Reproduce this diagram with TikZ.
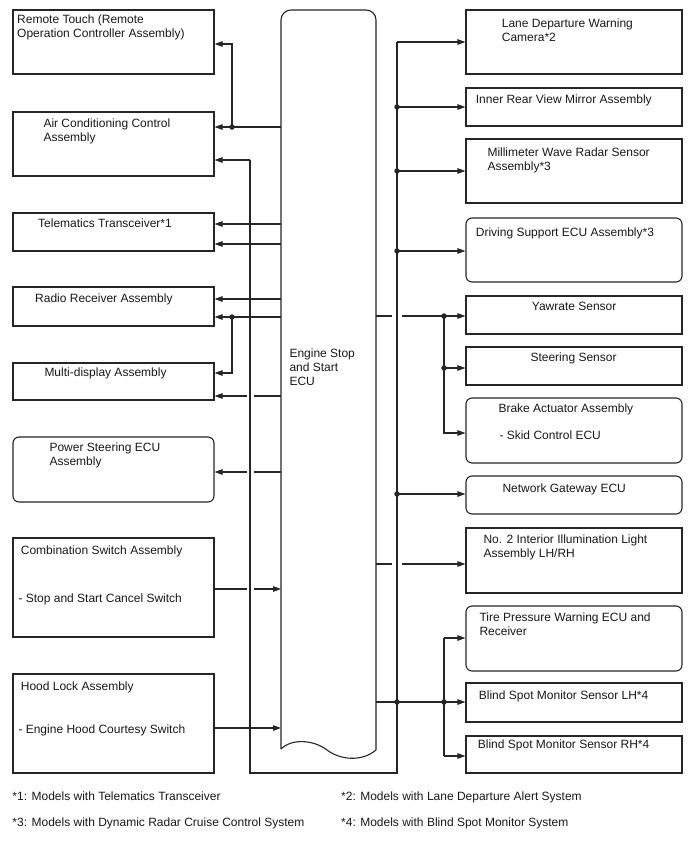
\documentclass[tikz,border=0pt]{standalone}
\usepackage{fontspec}
\setmainfont{Liberation Sans}
\usetikzlibrary{arrows.meta}
\begin{document}
\begin{tikzpicture}[x=1pt,y=-1pt,
  every node/.style={font=\fontsize{12}{14}\selectfont},
  ln/.style={line width=1.1pt, draw=black!85},
  box/.style={ln, rectangle, inner sep=0pt},
  lbox/.style={box, minimum width=201pt},
  rbox/.style={box, minimum width=216pt},
  rnd/.style={rounded corners=6pt},
  lbl/.style={anchor=base west, inner sep=0pt, text=black!90},
  arr/.style={ln, -{Triangle[length=8pt,width=5.5pt]}},
  dotn/.style={circle, fill=black!85, inner sep=0pt, minimum size=5.5pt}]
\fill[white] (0,0) rectangle (688,852);
\useasboundingbox (0,0) rectangle (688,852);

% ---- left boxes
\node[lbox, minimum height=64pt] (rt)  at (113.5,42) {};
\node[lbox, minimum height=64pt] (ac)  at (113.5,144) {};
\node[lbox, minimum height=38pt] (tel) at (113.5,232) {};
\node[lbox, minimum height=39pt] (rad) at (113.5,306.5) {};
\node[lbox, minimum height=37pt] (md)  at (113.5,381.5) {};
\node[lbox, rnd, minimum height=65pt] (ps) at (113.5,469.5) {};
\node[lbox, minimum height=99pt] (cs)  at (113.5,587.5) {};
\node[lbox, minimum height=99pt] (hl)  at (113.5,723.5) {};

% ---- right boxes
\node[rbox, minimum height=64pt] (ldw) at (574,42) {};
\node[rbox, minimum height=38pt] (irv) at (574,107) {};
\node[rbox, minimum height=64pt] (mmw) at (574,171) {};
\node[rbox, rnd, minimum height=64pt] (dsu) at (574,250) {};
\node[rbox, minimum height=38pt] (yaw) at (574,315) {};
\node[rbox, minimum height=38pt] (ste) at (574,366) {};
\node[rbox, rnd, minimum height=65pt] (bra) at (574,430.5) {};
\node[rbox, rnd, minimum height=38pt] (ngw) at (574,495) {};
\node[rbox, minimum height=65pt] (il)  at (574,560.5) {};
\node[rbox, rnd, minimum height=65pt] (tpw) at (574,638.5) {};
\node[rbox, minimum height=39pt] (bsl) at (574,702.5) {};
\node[rbox, minimum height=37pt] (bsr) at (574,754.5) {};

% ---- ECU
\draw[ln, rounded corners=10pt] (281,749) -- (281,10) -- (376,10) -- (376,750);
\draw[ln] (376,750) .. controls (362,762) and (340,760) .. (327,750)
                    .. controls (314,740) and (292,738) .. (281,749);
\node[lbl] (ecu1) at (289.3,357.6) {Engine Stop};
\node[lbl] (ecu2) at (289.3,371.6) {and Start};
\node[lbl] (ecu3) at (289.3,385.6) {ECU};

% ---- labels left
\node[lbl] (t1a) at (17,23.6) {Remote Touch (Remote};
\node[lbl] (t1b) at (17,37.6) {Operation Controller Assembly)};
\node[lbl] (t2a) at (43.3,127.6) {Air Conditioning Control};
\node[lbl] (t2b) at (43.3,141.6) {Assembly};
\node[lbl] (t3) at (38,227.6) {Telematics Transceiver*1};
\node[lbl] (t4) at (35,302.6) {Radio Receiver Assembly};
\node[lbl] (t5) at (44.3,376.6) {Multi-display Assembly};
\node[lbl] (t6a) at (49.3,451) {Power Steering ECU};
\node[lbl] (t6b) at (49.3,465) {Assembly};
\node[lbl] (t7a) at (20.7,554.3) {Combination Switch Assembly};
\node[lbl] (t7b) at (18.3,602) {- Stop and Start Cancel Switch};
\node[lbl] (t8a) at (20.7,690) {Hood Lock Assembly};
\node[lbl] (t8b) at (18.3,733.6) {- Engine Hood Courtesy Switch};

% ---- labels right
\node[lbl] (u1a) at (501.7,27) {Lane Departure Warning};
\node[lbl] (u1b) at (501.7,41) {Camera*2};
\node[lbl] (u2) at (475.7,103.6) {Inner Rear View Mirror Assembly};
\node[lbl] (u3a) at (487.3,156) {Millimeter Wave Radar Sensor};
\node[lbl] (u3b) at (487.3,170) {Assembly*3};
\node[lbl] (u4) at (475.7,236) {Driving Support ECU Assembly*3};
\node[lbl] (u5) at (531.7,310.3) {Yawrate Sensor};
\node[lbl] (u6) at (530.3,361.6) {Steering Sensor};
\node[lbl] (u7a) at (498.3,412.6) {Brake Actuator Assembly};
\node[lbl] (u7b) at (499.3,439.3) {- Skid Control ECU};
\node[lbl] (u8) at (502.3,492) {Network Gateway ECU};
\node[lbl] (u9a) at (483.3,543.6) {No. 2 Interior Illumination Light};
\node[lbl] (u9b) at (483.3,557.6) {Assembly LH/RH};
\node[lbl] (u10a) at (479.3,621) {Tire Pressure Warning ECU and};
\node[lbl] (u10b) at (479.3,635) {Receiver};
\node[lbl] (u11) at (478.7,699.3) {Blind Spot Monitor Sensor LH*4};
\node[lbl] (u12) at (477.7,748.3) {Blind Spot Monitor Sensor RH*4};

% ---- footnotes
\node[lbl] (f1) at (12.3,800) {*1: Models with Telematics Transceiver};
\node[lbl] (f3) at (12.3,826.6) {*3: Models with Dynamic Radar Cruise Control System};
\node[lbl] (f2) at (341,800) {*2: Models with Lane Departure Alert System};
\node[lbl] (f4) at (341,826.6) {*4: Models with Blind Spot Monitor System};

% ---- coordinates
\coordinate (LBt) at (250,160);
\coordinate (LBb) at (250,773);
\coordinate (RBb) at (397,773);
\coordinate (RBt) at (397,42);
\coordinate (e127) at (281,127);
\coordinate (k1) at (232,44);
\coordinate (e224) at (281,224);
\coordinate (e244) at (281,244);
\coordinate (e299) at (281,299);
\coordinate (e317) at (281,317);
\coordinate (k2) at (232,373);
\coordinate (e396) at (281,396);
\coordinate (g1a) at (254,396);
\coordinate (g1b) at (247,396);
\coordinate (e472) at (281,472);
\coordinate (g2a) at (254,472);
\coordinate (g2b) at (247,472);
\coordinate (e589) at (281,589);
\coordinate (g3a) at (247,589);
\coordinate (g3b) at (254,589);
\coordinate (e728) at (281,728);
\coordinate (f316) at (376,316);
\coordinate (h1a) at (392,316);
\coordinate (h1b) at (402,316);
\coordinate (k3) at (444,433);
\coordinate (f564) at (376,564);
\coordinate (h2a) at (392,564);
\coordinate (h2b) at (402,564);
\coordinate (f702) at (376,702);
\coordinate (k4) at (444,638);
\coordinate (k5) at (444,756);

\node[dotn] (d1) at (232,127) {};
\node[dotn] (d2) at (232,317) {};
\node[dotn] (r1) at (397,107) {};
\node[dotn] (r2) at (397,171) {};
\node[dotn] (r3) at (397,251) {};
\node[dotn] (r4) at (397,494) {};
\node[dotn] (r5) at (397,702) {};
\node[dotn] (s1) at (444,316) {};
\node[dotn] (s2) at (444,368) {};
\node[dotn] (s3) at (444,702) {};

% ---- bus
\draw[ln] (LBt) -- (LBb) -- (RBb) -- (RBt);
\draw[arr] (LBt) -- (ac.east |- LBt);
\draw[arr] (RBt) -- (ldw.west |- RBt);

% ---- left connectors
\draw[arr] (e127) -- (ac.east |- e127);
\draw[arr] (d1.center) -- (k1) -- (rt.east |- k1);
\draw[arr] (e224) -- (tel.east |- e224);
\draw[arr] (e244) -- (tel.east |- e244);
\draw[arr] (e299) -- (rad.east |- e299);
\draw[arr] (e317) -- (rad.east |- e317);
\draw[arr] (d2.center) -- (k2) -- (md.east |- k2);
\draw[ln] (e396) -- (g1a);
\draw[arr] (g1b) -- (md.east |- g1b);
\draw[ln] (e472) -- (g2a);
\draw[arr] (g2b) -- (ps.east |- g2b);
\draw[ln] (cs.east |- g3a) -- (g3a);
\draw[arr] (g3b) -- (e589);
\draw[arr] (hl.east |- e728) -- (e728);

% ---- right connectors
\draw[arr] (r1.center) -- (irv.west |- r1);
\draw[arr] (r2.center) -- (mmw.west |- r2);
\draw[arr] (r3.center) -- (dsu.west |- r3);
\draw[arr] (r4.center) -- (ngw.west |- r4);
\draw[ln] (f316) -- (h1a);
\draw[ln] (h1b) -- (s1.center);
\draw[arr] (s1.center) -- (yaw.west |- s1);
\draw[arr] (s2.center) -- (ste.west |- s2);
\draw[arr] (s1.center) -- (k3) -- (bra.west |- k3);
\draw[ln] (f564) -- (h2a);
\draw[arr] (h2b) -- (il.west |- h2b);
\draw[arr] (f702) -- (bsl.west |- f702);
\draw[ln] (k4) -- (k5);
\draw[arr] (k4) -- (tpw.west |- k4);
\draw[arr] (k5) -- (bsr.west |- k5);
\end{tikzpicture}
\end{document}
